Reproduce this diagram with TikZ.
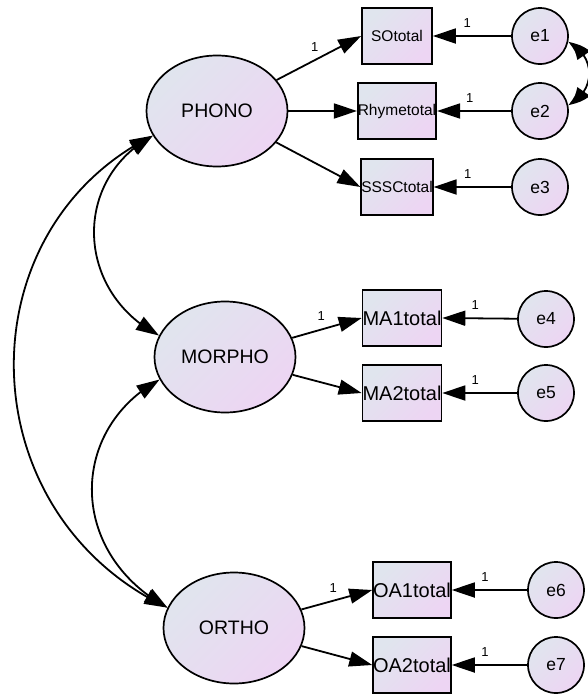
\documentclass[tikz,border=0pt]{standalone}
\usepackage{fontspec}
\setmainfont{Liberation Sans}
\usetikzlibrary{shapes.geometric,arrows.meta,bending}

\definecolor{fillA}{RGB}{224,229,238}
\definecolor{fillB}{RGB}{237,213,243}

\tikzset{
  vshade/.style={top color=fillA, bottom color=fillB, shading angle=45},
  latent/.style={ellipse, draw, line width=1.7pt, vshade, inner sep=0pt,
    minimum width=141pt, minimum height=111pt,
    font=\fontsize{19.5}{22}\selectfont},
  obsbox/.style={rectangle, draw, line width=1.7pt, vshade, inner sep=0pt,
    minimum width=70pt, minimum height=56pt},
  smalltxt/.style={font=\fontsize{15.5}{17}\selectfont},
  bigtxt/.style={font=\fontsize{20}{22}\selectfont},
  errc/.style={circle, draw, line width=1.7pt, vshade, inner sep=0pt,
    minimum size=56pt, font=\fontsize{17.5}{20}\selectfont},
  tip/.tip={Triangle[length=23pt,width=15pt]},
  bendtip/.tip={Triangle[length=22pt,width=15pt,bend]},
  path/.style={line width=1.8pt, -tip},
  cov/.style={line width=1.8pt, tip-tip},
  ecov/.style={line width=1.8pt, bendtip-bendtip},
  one/.style={font=\fontsize{13}{14}\selectfont, inner sep=1pt}
}

\begin{document}
\begin{tikzpicture}[x=1pt, y=-1pt]
\useasboundingbox (0,0) rectangle (587,694);

% latent factors
\node[latent] (PHONO)  at (217,111) {PHONO};
\node[latent] (MORPHO) at (225,357) {MORPHO};
\node[latent] (ORTHO)  at (234,628) {ORTHO};

% observed indicators
\node[obsbox, smalltxt] (SO)    at (397,36)  {SOtotal};
\node[obsbox, smalltxt] (RHYME) at (397,111) {Rhymetotal};
\node[obsbox, smalltxt] (SSSC)  at (397,187) {SSSCtotal};
\node[obsbox, bigtxt]   (MA1)   at (402,318) {MA1total};
\node[obsbox, bigtxt]   (MA2)   at (402,393) {MA2total};
\node[obsbox, bigtxt]   (OA1)   at (412,590) {OA1total};
\node[obsbox, bigtxt]   (OA2)   at (412,665) {OA2total};

% error terms
\node[errc] (e1) at (540,36)  {e1};
\node[errc] (e2) at (540,111) {e2};
\node[errc] (e3) at (540,187) {e3};
\node[errc] (e4) at (546,319) {e4};
\node[errc] (e5) at (546,393) {e5};
\node[errc] (e6) at (556,590) {e6};
\node[errc] (e7) at (556,665) {e7};

% factor loadings
\draw[path] (PHONO) -- (SO.west) node[one, pos=0.45, above=7pt] {1};
\draw[path] (PHONO) -- (RHYME.west);
\draw[path] (PHONO) -- (SSSC.west);
\draw[path] (MORPHO) -- (MA1.west) node[one, pos=0.42, above=7.5pt] {1};
\draw[path] (MORPHO) -- (MA2.west);
\draw[path] (ORTHO) -- (OA1.west) node[one, pos=0.45, above=6pt] {1};
\draw[path] (ORTHO) -- (OA2.west);

% error paths
\draw[path] (e1) -- (SO.east)    node[one, pos=0.56, above=7pt] {1};
\draw[path] (e2) -- (RHYME.east) node[one, pos=0.56, above=7pt] {1};
\draw[path] (e3) -- (SSSC.east)  node[one, pos=0.56, above=7pt] {1};
\draw[path] (e4) -- (MA1.east)   node[one, pos=0.56, above=7pt] {1};
\draw[path] (e5) -- (MA2.east)   node[one, pos=0.56, above=7pt] {1};
\draw[path] (e6) -- (OA1.east)   node[one, pos=0.56, above=7pt] {1};
\draw[path] (e7) -- (OA2.east)   node[one, pos=0.56, above=7pt] {1};

% error covariance
\draw[ecov] (e1.-12) .. controls +(28,14) and +(28,-14) .. (e2.12);

% factor covariances
\draw[cov] (PHONO.201) .. controls +(-81,44) and +(-84,-44) .. (MORPHO.162);
\draw[cov] (PHONO.201) .. controls +(-190,95) and +(-200,-95) .. (ORTHO.163);
\draw[cov] (MORPHO.199) .. controls +(-91,50) and +(-100,-55) .. (ORTHO.163);
\end{tikzpicture}
\end{document}
